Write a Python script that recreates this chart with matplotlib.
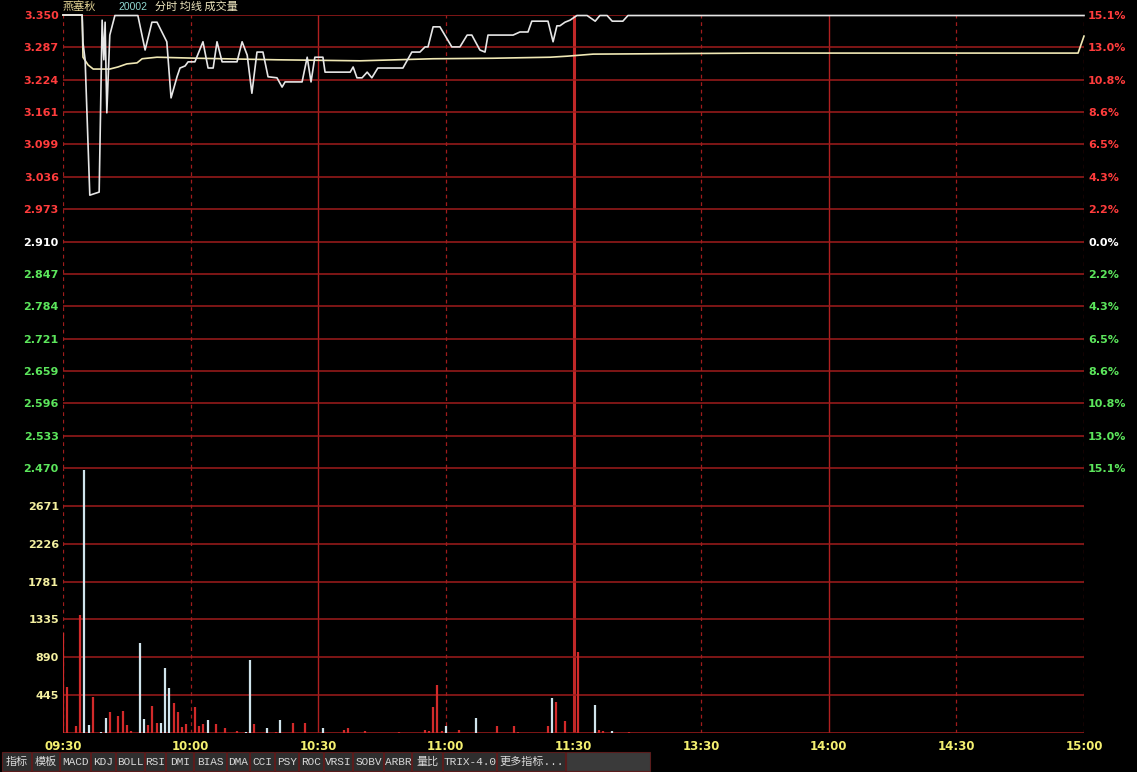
import numpy as np
import matplotlib.pyplot as plt
from matplotlib.patches import Rectangle

# minutes since 09:30 (lunch break removed, 240 = 15:00)
price_min = [0, 4.5, 4.7, 5.2, 6.3, 8.5, 9.2, 9.6, 9.9, 10.3, 11.0, 11.5, 12.2, 17.6, 19.3,
             20.9, 22.1, 24.4, 25.4, 26.8, 27.5, 28.7, 29.4, 31.0, 32.9, 34.1, 35.3, 36.2,
             37.4, 40.9, 42.1, 43.3, 44.4, 45.6, 47.0, 48.2, 50.3, 51.5, 52.2, 56.2, 57.4,
             58.3, 59.2, 61.1, 61.6, 67.5, 68.2, 69.1, 70.3, 71.5, 72.6, 74.0, 79.9, 81.6,
             82.0, 83.9, 85.1, 85.8, 87.0, 88.6, 91.4, 93.3, 95.0, 96.1, 98.0, 99.2, 99.9,
             105.8, 107.4, 109.3, 110.2, 114.0, 115.2, 116.1, 116.8, 118.0, 119.2, 120.8,
             123.2, 125.1, 126.2, 127.9, 129.1, 131.6, 132.8, 240]
price_val = [3.350, 3.350, 3.296, 3.263, 3.000, 3.006, 3.340, 3.263, 3.336, 3.160, 3.311,
             3.327, 3.349, 3.349, 3.282, 3.336, 3.336, 3.298, 3.189, 3.230, 3.247, 3.251,
             3.259, 3.259, 3.298, 3.247, 3.247, 3.298, 3.259, 3.259, 3.298, 3.272, 3.198,
             3.278, 3.278, 3.230, 3.228, 3.210, 3.220, 3.220, 3.268, 3.220, 3.268, 3.268,
             3.239, 3.239, 3.249, 3.228, 3.228, 3.239, 3.228, 3.247, 3.247, 3.272, 3.278,
             3.278, 3.288, 3.288, 3.327, 3.327, 3.288, 3.288, 3.311, 3.311, 3.282, 3.278,
             3.311, 3.311, 3.317, 3.317, 3.338, 3.338, 3.298, 3.329, 3.329, 3.336, 3.340,
             3.349, 3.349, 3.338, 3.349, 3.349, 3.338, 3.338, 3.349, 3.349]

avg_min = [0, 4.5, 4.7, 5.9, 7.1, 11.0, 12.9, 15.0, 17.4, 18.6, 22.1, 31.5, 50.3, 69.8,
           87.0, 101.1, 114.5, 118.5, 124.6, 163.4, 238.6, 240]
avg_val = [3.350, 3.350, 3.268, 3.253, 3.245, 3.245, 3.249, 3.255, 3.257, 3.265, 3.268,
           3.266, 3.263, 3.261, 3.265, 3.266, 3.268, 3.270, 3.274, 3.276, 3.276, 3.309]

vol_min = [0, 1, 3, 4, 5, 6, 7, 9, 10, 11, 13, 14, 15, 16, 18, 19, 20, 21, 22, 23, 24, 25,
           26, 27, 28, 29, 31, 32, 33, 34, 36, 38, 41, 43, 44, 45, 48, 50, 51, 54, 57, 61,
           66, 67, 71, 79, 85, 86, 87, 88, 89, 90, 93, 97, 102, 106, 107, 114, 115, 116,
           118, 121, 125, 126, 127, 129, 133]
vol_val = [1174, 540, 82, 1385, 3090, 94, 423, 15, 176, 246, 200, 258, 94, 25, 1056, 164,
           94, 317, 117, 117, 763, 528, 352, 246, 70, 106, 305, 82, 106, 153, 106, 59, 25,
           12, 857, 106, 59, 12, 153, 117, 117, 59, 40, 59, 25, 12, 40, 25, 305, 563, 25,
           82, 40, 176, 82, 82, 12, 82, 411, 364, 141, 951, 329, 40, 25, 25, 12]
vol_up = [1, 1, 1, 1, 0, 0, 1, 0, 0, 1, 1, 1, 1, 1, 0, 0, 1, 1, 1, 0, 0, 0, 1, 1, 1, 1,
          1, 1, 1, 0, 1, 1, 1, 0, 0, 1, 0, 1, 0, 1, 1, 0, 1, 1, 1, 1, 1, 1, 1, 1, 1, 0, 1,
          0, 1, 1, 1, 1, 0, 1, 1, 1, 0, 1, 1, 0, 1]

price_labels = ['3.350', '3.287', '3.224', '3.161', '3.099', '3.036', '2.973', '2.910',
                '2.847', '2.784', '2.721', '2.659', '2.596', '2.533', '2.470']
pct_labels = ['15.1%', '13.0%', '10.8%', '8.6%', '6.5%', '4.3%', '2.2%', '0.0%',
              '2.2%', '4.3%', '6.5%', '8.6%', '10.8%', '13.0%', '15.1%']
vol_labels = ['445', '890', '1335', '1781', '2226', '2671']
time_labels = ['09:30', '10:00', '10:30', '11:00', '11:30', '13:30', '14:00', '14:30', '15:00']
buttons = ['指标', '模板', 'MACD', 'KDJ', 'BOLL', 'RSI', 'DMI', 'BIAS', 'DMA', 'CCI', 'PSY',
           'ROC', 'VRSI', 'SOBV', 'ARBR', '量比', 'TRIX-4.0', '更多指标...']

W, H = 1137, 772
GRID = '#a01c1c'
CJK = ['Noto Sans CJK SC', 'DejaVu Sans']

fig = plt.figure(figsize=(W / 100, H / 100), dpi=100, facecolor='black')
L, R, T, MID, B = 63, 1084, 15, 468, 733
ax1 = fig.add_axes([L / W, 1 - MID / H, (R - L) / W, (MID - T) / H])
ax2 = fig.add_axes([L / W, 1 - B / H, (R - L) / W, (B - MID) / H])

pmin, pmax = 2.470, 3.350
vmax = 3116
for ax in (ax1, ax2):
    ax.set_facecolor('black')
    ax.set_xlim(0, 240)
    for s in ax.spines.values():
        s.set_visible(False)
    ax.tick_params(length=0)
    for m in range(0, 241, 30):
        if m == 120:
            ax.axvline(m, color='#c02828', lw=2.2, zorder=1)
        elif m in (60, 180):
            ax.axvline(m, color='#b02020', lw=1.0, zorder=1)
        else:
            ax.axvline(m, color=GRID, lw=0.9, ls=(0, (3, 3)), zorder=1)

# price panel
ax1.set_ylim(pmin, pmax)
yt = np.linspace(pmin, pmax, 15)
for y in yt:
    ax1.axhline(y, color=GRID, lw=1.1, zorder=1)
ax1.set_xticks([])
ax1.set_yticks(yt)
ax1.set_yticklabels(price_labels[::-1], fontsize=8, fontweight='bold')
ax1.tick_params(axis='y', pad=3)
for lab, y in zip(ax1.get_yticklabels(), yt):
    lab.set_color('#ff3c3c' if y > 2.911 else ('#ffffff' if y > 2.909 else '#5ce65c'))

axr = ax1.twinx()
axr.set_ylim(pmin, pmax)
for s in axr.spines.values():
    s.set_visible(False)
axr.set_yticks(yt)
axr.set_yticklabels(pct_labels[::-1], fontsize=8, fontweight='bold')
axr.tick_params(axis='y', length=0, pad=3)
for lab, y in zip(axr.get_yticklabels(), yt):
    lab.set_color('#ff3c3c' if y > 2.911 else ('#ffffff' if y > 2.909 else '#5ce65c'))

ax1.plot(avg_min, avg_val, color='#f0e8b4', lw=1.2, zorder=3, clip_on=False)
ax1.plot(price_min, price_val, color='#e6e6e6', lw=1.2, zorder=4, clip_on=False)

# volume panel
ax2.set_ylim(0, vmax)
vt = np.linspace(0, vmax, 8)
for v in vt:
    ax2.axhline(v, color=GRID, lw=1.1, zorder=1)
ax2.set_yticks(vt[1:7])
ax2.set_yticklabels(vol_labels, fontsize=8, fontweight='bold', color='#f4f0a0')
ax2.tick_params(axis='y', pad=3)
vm = np.array(vol_min)
vv = np.array(vol_val)
up = np.array(vol_up) == 1
ax2.vlines(vm[up], 0, vv[up], color='#d22a2a', lw=1.6, zorder=3)
ax2.vlines(vm[~up], 0, vv[~up], color='#d0e4ec', lw=1.6, zorder=3)
ax2.set_xticks(range(0, 241, 30))
ax2.set_xticklabels(time_labels, fontsize=8.5, fontweight='bold', color='#f4f070')
ax2.tick_params(axis='x', pad=5)

# header
fig.text(63 / W, 1 - 7 / H, '燕塞秋', family=CJK, fontsize=8, color='#e8d898', va='center')
fig.text(118 / W, 1 - 7 / H, '20002', family='Liberation Sans', fontsize=7.5,
         color='#90d8d0', va='center')
fig.text(155 / W, 1 - 7 / H, '分时 均线 成交量', family=CJK, fontsize=8,
         color='#f0e8c0', va='center')

# toolbar
edges = [2, 32, 60, 91, 116, 145, 166, 194, 227, 250, 275, 299, 324, 353, 384, 412, 443,
         497, 566]
for i, name in enumerate(buttons):
    x0, x1 = edges[i], edges[i + 1]
    fig.patches.append(Rectangle((x0 / W, 1 - 771 / H), (x1 - x0 - 1) / W, 19 / H,
                                 transform=fig.transFigure, facecolor='#2e2e2e',
                                 edgecolor='#5a1c1c', lw=0.8))
    fig.text((x0 + x1) / 2 / W, 1 - 762 / H, name, family=['Liberation Mono'] + CJK,
             fontsize=8, color='#d8d8d8', ha='center', va='center')
fig.patches.append(Rectangle((566 / W, 1 - 771 / H), 84 / W, 19 / H,
                             transform=fig.transFigure, facecolor='#3a3a3a',
                             edgecolor='#5a1c1c', lw=0.8))

fig.savefig('out.png', dpi=100, facecolor='black')
